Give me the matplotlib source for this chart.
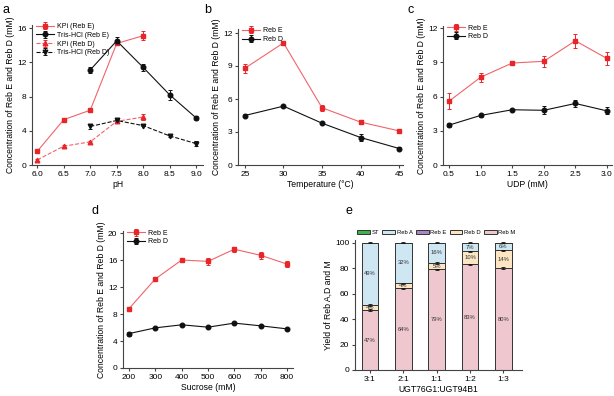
import matplotlib
matplotlib.use('Agg')
import matplotlib.pyplot as plt
import numpy as np

plt.rcParams['font.family'] = ['Liberation Sans', 'DejaVu Sans']
plt.rcParams['font.size'] = 6

RED = '#e8262a'
RED_LINE = '#f0646a'
BLACK = '#111111'

# panel a: pH
ph_kpi = [6.0, 6.5, 7.0, 7.5, 8.0]
kpi_e = [1.6, 5.3, 6.4, 14.2, 15.1]
kpi_e_err = [0.15, 0.1, 0.15, 0.2, 0.5]
kpi_d = [0.6, 2.2, 2.7, 5.1, 5.6]
kpi_d_err = [0.1, 0.1, 0.1, 0.15, 0.4]
ph_tris = [7.0, 7.5, 8.0, 8.5, 9.0]
tris_e = [11.1, 14.5, 11.4, 8.2, 5.5]
tris_e_err = [0.4, 0.4, 0.4, 0.6, 0.2]
tris_d = [4.5, 5.2, 4.6, 3.4, 2.5]
tris_d_err = [0.3, 0.15, 0.1, 0.15, 0.3]

# panel b: temperature
temp = [25, 30, 35, 40, 45]
temp_e = [8.8, 11.1, 5.2, 3.9, 3.1]
temp_e_err = [0.4, 0.15, 0.25, 0.15, 0.1]
temp_d = [4.5, 5.35, 3.8, 2.5, 1.5]
temp_d_err = [0.1, 0.1, 0.1, 0.3, 0.1]

# panel c: UDP
udp = [0.5, 1.0, 1.5, 2.0, 2.5, 3.0]
udp_e = [5.6, 7.7, 8.95, 9.1, 10.9, 9.35]
udp_e_err = [0.7, 0.4, 0.15, 0.5, 0.6, 0.55]
udp_d = [3.5, 4.35, 4.85, 4.8, 5.4, 4.75]
udp_d_err = [0.2, 0.1, 0.1, 0.35, 0.3, 0.3]

# panel d: sucrose
sucrose = [200, 300, 400, 500, 600, 700, 800]
suc_e = [8.8, 13.2, 16.0, 15.8, 17.6, 16.7, 15.4]
suc_e_err = [0.3, 0.3, 0.15, 0.5, 0.4, 0.5, 0.4]
suc_d = [5.1, 5.95, 6.4, 6.05, 6.65, 6.25, 5.8]
suc_d_err = [0.3, 0.1, 0.1, 0.1, 0.1, 0.1, 0.1]

# panel e: yield
ratios = ['3:1', '2:1', '1:1', '1:2', '1:3']
st = [0, 0, 0, 0, 0]
reb_m = [47, 64, 79, 83, 80]
reb_e = [0, 0, 0, 0, 0]
reb_d = [4, 4, 5, 10, 14]
reb_a = [49, 32, 16, 7, 6]

W, H = 614, 396
TICK = 6
LAB = 6.2


def place(left, right, top, bottom):
    return fig.add_axes([left / W, 1 - bottom / H, (right - left) / W, (bottom - top) / H])


def style(ax):
    for s in ['top', 'right']:
        ax.spines[s].set_visible(False)
    for s in ['left', 'bottom']:
        ax.spines[s].set_color('#444444')
        ax.spines[s].set_linewidth(0.8)
    ax.tick_params(direction='out', length=2.5, width=0.8, color='#444444', labelsize=TICK, pad=1.5)


def series(ax, x, y, err, color, lcolor, marker, ls, label):
    ax.errorbar(x, y, yerr=err, color=lcolor, ecolor=color, marker=marker, mfc=color, mec=color,
                ms=3.3, lw=0.8, ls=ls, capsize=1.3, elinewidth=0.7, capthick=0.7, label=label)


def leg(ax):
    ax.legend(loc='upper left', frameon=False, fontsize=5, handlelength=2.6,
              borderaxespad=0.2, labelspacing=0.25, handletextpad=0.4, bbox_to_anchor=(0.0, 1.04))


ylabel = 'Concentration of Reb E and Reb D (mM)'
fig = plt.figure(figsize=(W / 100, H / 100), dpi=100)

# a
ax = place(32, 203, 24.6, 165)
series(ax, ph_kpi, kpi_e, kpi_e_err, RED, RED_LINE, 's', '-', 'KPi (Reb E)')
series(ax, ph_tris, tris_e, tris_e_err, BLACK, BLACK, 'o', '-', 'Tris-HCl (Reb E)')
series(ax, ph_kpi, kpi_d, kpi_d_err, RED, RED_LINE, '^', '--', 'KPi (Reb D)')
series(ax, ph_tris, tris_d, tris_d_err, BLACK, BLACK, 'v', '--', 'Tris-HCl (Reb D)')
ax.set_xlim(5.9, 9.13)
ax.set_ylim(0, 16.4)
ax.set_xticks([6.0, 6.5, 7.0, 7.5, 8.0, 8.5, 9.0])
ax.set_yticks([0, 4, 8, 12, 16])
ax.set_xlabel('pH', fontsize=LAB, labelpad=2)
ax.set_ylabel(ylabel, fontsize=LAB, labelpad=1.5)
style(ax)
leg(ax)

# b
ax = place(238, 403, 28.6, 165)
series(ax, temp, temp_e, temp_e_err, RED, RED_LINE, 's', '-', 'Reb E')
series(ax, temp, temp_d, temp_d_err, BLACK, BLACK, 'o', '-', 'Reb D')
ax.set_xlim(24.1, 45.5)
ax.set_ylim(0, 12.4)
ax.set_xticks(temp)
ax.set_yticks([0, 3, 6, 9, 12])
ax.set_xlabel('Temperature (\u00b0C)', fontsize=LAB, labelpad=2)
ax.set_ylabel(ylabel, fontsize=LAB, labelpad=1.5)
style(ax)
leg(ax)

# c
ax = place(443, 612, 26, 165)
series(ax, udp, udp_e, udp_e_err, RED, RED_LINE, 's', '-', 'Reb E')
series(ax, udp, udp_d, udp_d_err, BLACK, BLACK, 'o', '-', 'Reb D')
ax.set_xlim(0.405, 3.08)
ax.set_ylim(0, 12.2)
ax.set_xticks(udp)
ax.set_yticks([0, 3, 6, 9, 12])
ax.set_xlabel('UDP (mM)', fontsize=LAB, labelpad=2)
ax.set_ylabel(ylabel, fontsize=LAB, labelpad=1.5)
style(ax)
leg(ax)

# d
ax = place(123, 293, 231, 368)
series(ax, sucrose, suc_e, suc_e_err, RED, RED_LINE, 's', '-', 'Reb E')
series(ax, sucrose, suc_d, suc_d_err, BLACK, BLACK, 'o', '-', 'Reb D')
ax.set_xlim(177, 823)
ax.set_ylim(0, 20.3)
ax.set_xticks(sucrose)
ax.set_yticks([0, 4, 8, 12, 16, 20])
ax.set_xlabel('Sucrose (mM)', fontsize=LAB, labelpad=2)
ax.set_ylabel(ylabel, fontsize=LAB, labelpad=1.5)
style(ax)
leg(ax)

# e
ax = place(355, 522, 240, 370)
x = np.arange(len(ratios))
cols = {'ST': '#3cb44b', 'Reb A': '#cfe6f3', 'Reb E': '#a887c4', 'Reb D': '#fbe5c3', 'Reb M': '#efc7cf'}
bottom = np.zeros(len(ratios))
for name, vals in [('Reb M', reb_m), ('Reb D', reb_d), ('Reb E', reb_e), ('Reb A', reb_a), ('ST', st)]:
    vals = np.array(vals, dtype=float)
    ax.bar(x, vals, 0.5, bottom=bottom, color=cols[name], edgecolor='#333333', linewidth=0.7,
           label=name, zorder=2)
    top = bottom + vals
    if name in ['Reb M', 'Reb D', 'Reb A']:
        ax.errorbar(x, top, yerr=0.5, fmt='none', ecolor='#111111', capsize=1.2, elinewidth=0.6,
                    capthick=0.6, zorder=3)
        for xi, b, v in zip(x, bottom, vals):
            ax.text(xi, b + v / 2, '%d%%' % v, ha='center', va='center', fontsize=4.2, color='#333333',
                    zorder=4)
    bottom = top
ax.set_xlim(-0.45, 4.56)
ax.set_ylim(0, 102)
ax.set_xticks(x)
ax.set_xticklabels(ratios)
ax.set_yticks([0, 20, 40, 60, 80, 100])
ax.set_xlabel('UGT76G1:UGT94B1', fontsize=LAB, labelpad=2)
ax.set_ylabel('Yield of Reb A,D and M', fontsize=LAB, labelpad=1.5)
style(ax)
h, l = ax.get_legend_handles_labels()
order = [l.index(n) for n in ['ST', 'Reb A', 'Reb E', 'Reb D', 'Reb M']]
ax.legend([h[i] for i in order], [l[i] for i in order], loc='lower left', bbox_to_anchor=(0.0, 1.02),
          ncol=5, frameon=False, fontsize=4.2, handlelength=2.2, handleheight=0.9,
          columnspacing=0.5, handletextpad=0.3, borderaxespad=0)

# panel letters
for txt, px, py in [('a', 3, 10), ('b', 204, 10), ('c', 408, 10), ('d', 92, 211), ('e', 345, 211)]:
    fig.text(px / W, 1 - py / H, txt, fontsize=9, ha='left', va='center')

fig.savefig('out.png', dpi=100)
